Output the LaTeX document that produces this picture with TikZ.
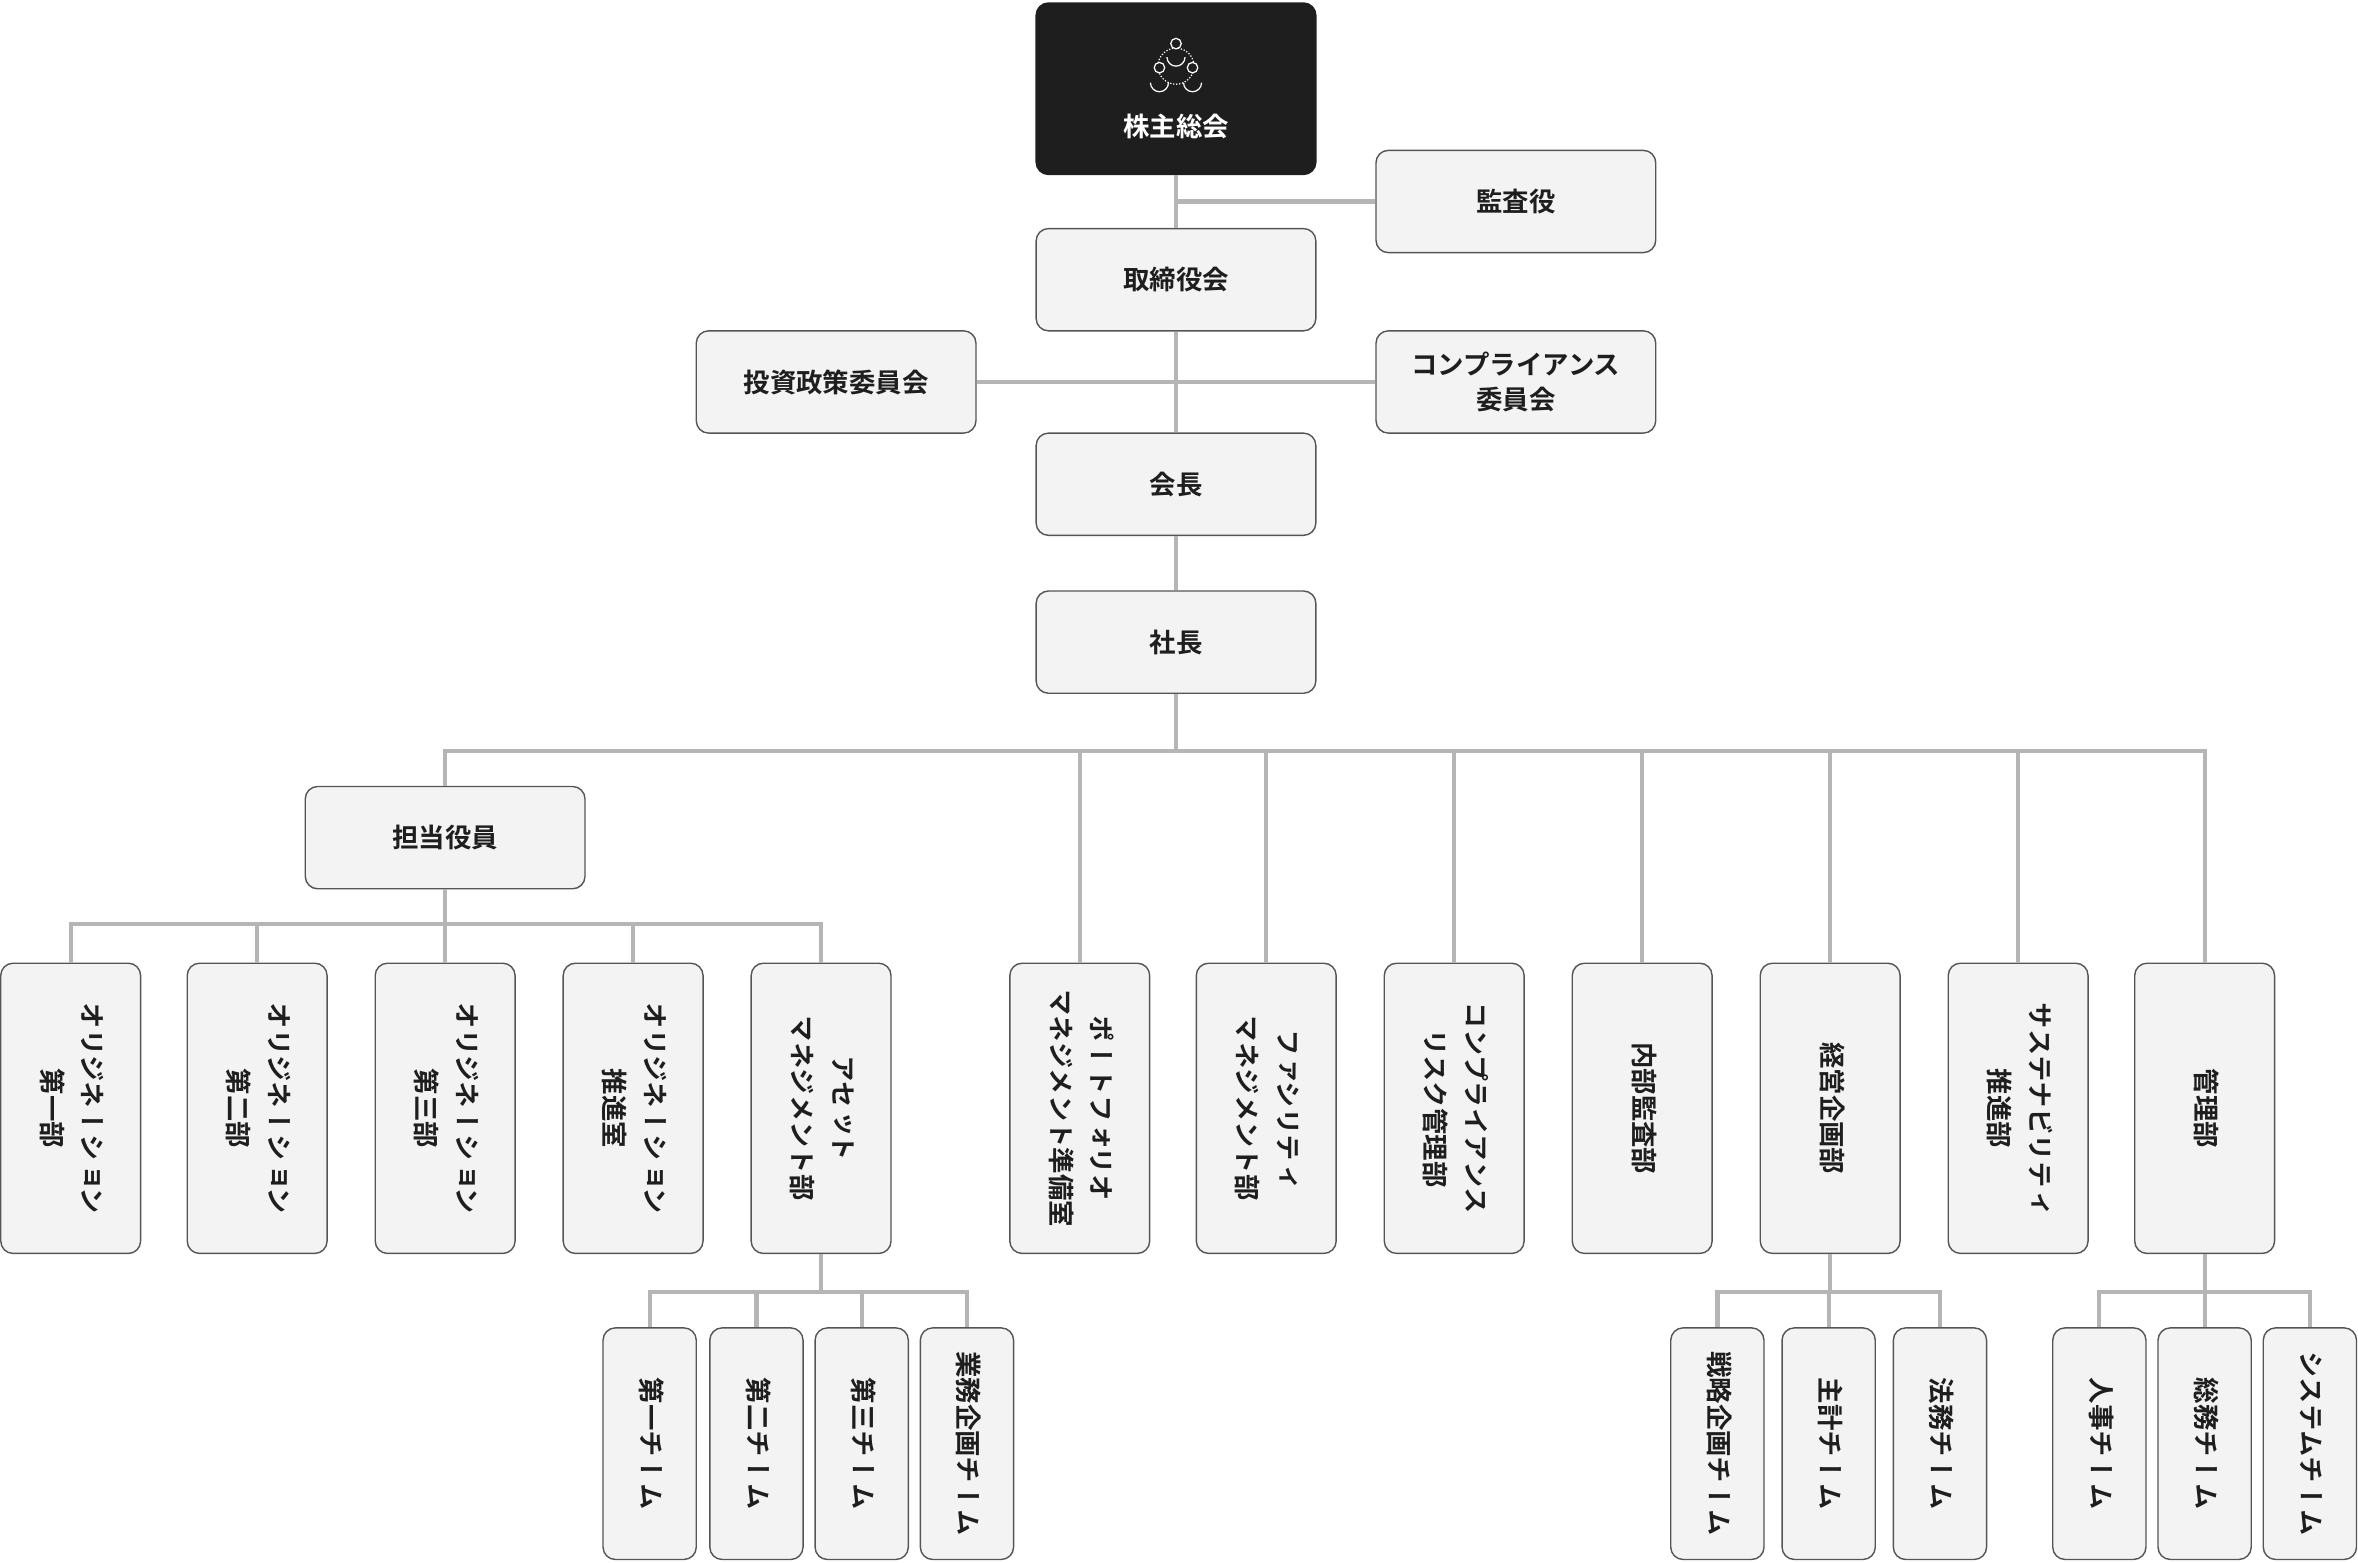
\documentclass[tikz,border=0pt]{standalone}
\usepackage{fontspec}
\usepackage{graphicx}
\setmainfont{Noto Sans CJK JP}[BoldFont={* Bold}]
\newfontfamily\vjp{Noto Sans CJK JP}[Vertical=RotatedGlyphs,BoldFont={* Bold}]
\usetikzlibrary{calc}
\definecolor{boxfill}{HTML}{F3F3F3}
\definecolor{boxline}{HTML}{555555}
\definecolor{wire}{HTML}{B5B5B5}
\definecolor{ink}{HTML}{1E1E1E}
\tikzset{
  box/.style={draw=boxline, line width=0.8pt, fill=boxfill, rounded corners=7pt,
    text=ink, font=\bfseries\fontsize{15}{20}\selectfont, inner sep=0pt},
  hbox/.style={box, minimum width=186*0.3mm, minimum height=68*0.3mm, align=center},
  vbox/.style={box, minimum width=93*0.3mm, minimum height=193*0.3mm},
  sbox/.style={box, minimum width=62*0.3mm, minimum height=154*0.3mm},
  link/.style={draw=wire, line width=2.4pt},
}
\newcommand{\vtext}[1]{\rotatebox{-90}{\vjp\bfseries\fontsize{15}{23}\selectfont\begin{tabular}{@{}c@{}}#1\end{tabular}}}
\begin{document}
\begin{tikzpicture}[x=0.3mm, y=-0.3mm]
\useasboundingbox (0,0) rectangle (1568,1039);

% top of the chart
\node[hbox, fill=ink, draw=ink, text=white, minimum height=114*0.3mm] (kabunushi) at (782,59) {};
\node[text=white, font=\bfseries\fontsize{15}{20}\selectfont] (kabutext) at (782,84) {株主総会};
\begin{scope}[white, line width=0.7pt]
  \draw[densely dotted] (782,44) circle (12);
  \draw[fill=ink] (782,29) circle (3.5);
  \draw (776,38) arc (180:0:6);
  \draw[fill=ink] (771,45) circle (3.5);
  \draw (765,55) arc (180:0:6);
  \draw[fill=ink] (793,45) circle (3.5);
  \draw (787,55) arc (180:0:6);
\end{scope}
\node[hbox] (kansa) at (1008,134) {監査役};
\node[hbox] (torishimari) at (782,186) {取締役会};
\node[hbox] (toushi) at (556,254) {投資政策委員会};
\node[hbox] (compiin) at (1008,254) {コンプライアンス\\委員会};
\node[hbox] (kaicho) at (782,322) {会長};
\node[hbox] (shacho) at (782,427) {社長};
\node[hbox] (tanto) at (296,557) {担当役員};

\draw[link] (kabunushi.south) -- (torishimari.north);
\draw[link] (kansa.west) -- (kansa.west -| kabunushi.south);
\draw[link] (torishimari.south) -- (kaicho.north);
\draw[link] (toushi.east) -- (compiin.west);
\draw[link] (kaicho.south) -- (shacho.north);

% departments under the president
\foreach \name/\x/\txt in {
  portfolio/718/{ポートフォリオ\\マネジメント準備室},
  facility/842/{ファシリティ\\マネジメント部},
  complrisk/967/{コンプライアンス\\リスク管理部},
  naibu/1092/{内部監査部},
  keiei/1217/{経営企画部},
  sustain/1342/{サステナビリティ\\推進部},
  kanri/1466/{管理部}}
  \node[vbox] (\name) at (\x,737) {\vtext{\txt}};

\foreach \name in {tanto,portfolio,facility,complrisk,naibu,keiei,sustain,kanri}
  \draw[link] (shacho.south) -- ++(0,38) -| (\name.north);

% departments under the officer
\foreach \name/\x/\txt in {
  orig1/47/{オリジネーション\\第一部},
  orig2/171/{オリジネーション\\第二部},
  orig3/296/{オリジネーション\\第三部},
  origsui/421/{オリジネーション\\推進室},
  asset/546/{アセット\\マネジメント部}}
{
  \node[vbox] (\name) at (\x,737) {\vtext{\txt}};
  \draw[link] (tanto.south) -- ++(0,23) -| (\name.north);
}

% teams
\foreach \name/\x/\up/\txt in {
  team1/432/asset/{第一チーム},
  team2/503/asset/{第二チーム},
  team3/573/asset/{第三チーム},
  gyomu/643/asset/{業務企画チーム},
  senryaku/1142/keiei/{戦略企画チーム},
  shukei/1216/keiei/{主計チーム},
  homu/1290/keiei/{法務チーム},
  jinji/1396/kanri/{人事チーム},
  somu/1466/kanri/{総務チーム},
  system/1536/kanri/{システムチーム}}
{
  \node[sbox] (\name) at (\x,960) {\vtext{\txt}};
  \draw[link] (\up.south) -- ++(0,25) -| (\name.north);
}
\end{tikzpicture}
\end{document}
